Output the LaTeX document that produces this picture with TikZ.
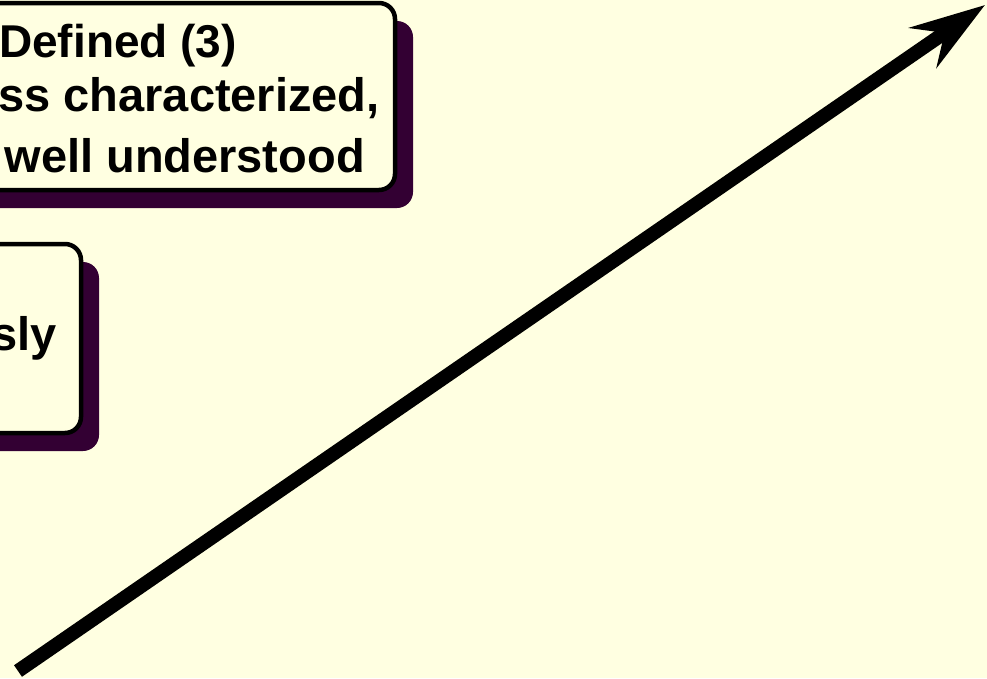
\documentclass[tikz,border=0pt]{standalone}
\usepackage{fontspec}
\setmainfont{Liberation Sans}
\usetikzlibrary{arrows.meta,shadows}
\definecolor{bgc}{HTML}{FFFFE1}
\definecolor{shadowc}{HTML}{330033}
\tikzset{
  box/.style={draw=black, line width=4.5pt, fill=bgc, rounded corners=16pt, inner sep=0pt,
    drop shadow={shadow xshift=18pt, shadow yshift=-18pt, fill=shadowc, opacity=1}},
  lbl/.style={font=\fontsize{47}{56}\selectfont\bfseries, inner sep=0pt, anchor=base east},
  bigarrow/.style={line width=14pt, -{Stealth[length=75pt,width=48pt,inset=26pt]}}
}
\begin{document}
\begin{tikzpicture}[x=1pt,y=-1pt]
\useasboundingbox (0,0) rectangle (987,678);
\clip (0,0) rectangle (987,678);
\fill[bgc] (0,0) rectangle (987,678);
% box 1
\node[box, minimum width=795pt, minimum height=187pt] (b1) at (-2.5,96.5) {};
\node[lbl, font=\fontsize{46}{55}\selectfont\bfseries] (t1) at (237,57) {Defined (3)};
\node[lbl] (t2) at (380,111) {ss characterized,};
\node[lbl] (t3) at (365,172) {well understood};
% box 2
\node[box, minimum width=481pt, minimum height=189pt] (b2) at (-159.5,338.5) {};
\node[lbl] (t4) at (57,350) {sly};
% arrow
\coordinate (a0) at (18,671);
\coordinate (a1) at (985,5);
\draw[bigarrow] (a0) -- (a1);
\end{tikzpicture}
\end{document}
